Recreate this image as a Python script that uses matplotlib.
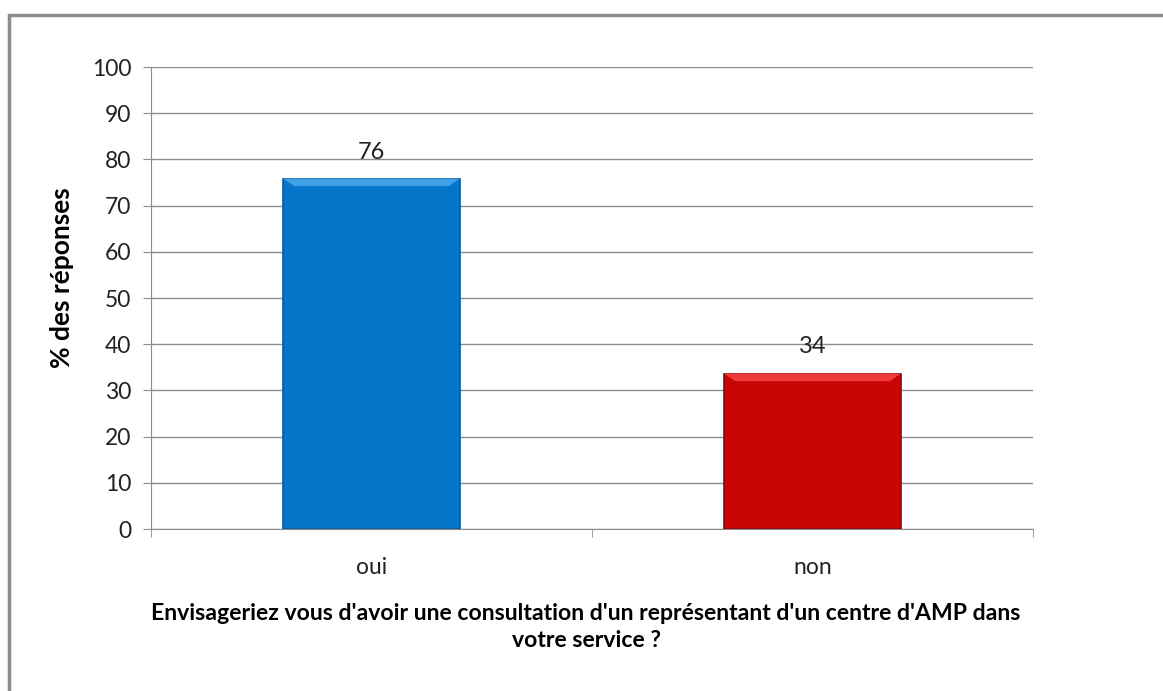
import matplotlib
matplotlib.use("Agg")
import matplotlib.pyplot as plt
from matplotlib.patches import Rectangle, Polygon
import numpy as np

categories = ["oui", "non"]
values = [75.8, 33.6]
bar_colors = ["#0575C9", "#C90505"]
edge_colors = ["#0A5A9A", "#8E0A0A"]
top_colors = ["#3FA0E8", "#EE3A3A"]
yticks = [0, 10, 20, 30, 40, 50, 60, 70, 80, 90, 100]
ylabel = "% des réponses"
xlabel = "Envisageriez vous d'avoir une consultation d'un représentant d'un centre d'AMP dans\nvotre service ?"

plt.rcParams['font.family'] = ['Lato', 'DejaVu Sans']

W, H = 1163, 691
fig = plt.figure(figsize=(W / 100, H / 100), dpi=100)
fig.patch.set_facecolor("white")

# outer frame (left and top edges visible)
fig.patches.append(Rectangle((9 / W, -0.1), 1.2, 1 - 15 / H + 0.1, transform=fig.transFigure,
                             fill=False, edgecolor="#8c8c8c", linewidth=2.5, zorder=0))

ax = fig.add_axes([151 / W, 1 - 529 / H, (1033 - 151) / W, (529 - 67) / H])
x = np.arange(len(categories))
bw = 0.4
bars = ax.bar(x, values, width=bw, color=bar_colors, edgecolor=edge_colors, linewidth=1.2, zorder=3)

# bevel highlight on top of bars
dx = 0.025
dy = 1.6
for b, v, tc in zip(bars, values, top_colors):
    x0 = b.get_x()
    x1 = x0 + b.get_width()
    ax.add_patch(Polygon([[x0, v], [x1, v], [x1 - dx, v - dy], [x0 + dx, v - dy]],
                         closed=True, facecolor=tc, edgecolor="none", zorder=4))

for xi, v in zip(x, values):
    ax.text(xi, v + 5.8, f"{v:.0f}", ha="center", va="center", fontsize=17, color="#222222")

ax.set_xlim(-0.5, 1.5)
ax.set_ylim(0, 100)
ax.set_yticks(yticks)
ax.set_yticklabels([str(t) for t in yticks], fontsize=16.5, color="#222222")
ax.set_xticks(x)
ax.set_xticklabels(categories, fontsize=16.5, color="#222222")
ax.set_xticks([-0.5, 0.5, 1.5], minor=True)
ax.tick_params(axis="x", which="major", length=0, pad=20)
ax.tick_params(axis="x", which="minor", length=6, color="#8c8c8c", direction="out")
ax.tick_params(axis="y", length=6, color="#8c8c8c", pad=8)
ax.grid(axis="y", color="#8c8c8c", linewidth=1, zorder=0)

for s in ["top", "right"]:
    ax.spines[s].set_visible(False)
for s in ["left", "bottom"]:
    ax.spines[s].set_color("#8c8c8c")

ax.set_ylabel(ylabel, fontsize=19, fontweight="bold", va="center")
ax.yaxis.set_label_coords(-0.101, 0.545)

fig.text(586 / W, 1 - 627 / H, xlabel, ha="center", va="center", multialignment="center",
         fontsize=16.6, fontweight="bold", linespacing=1.3)

fig.savefig("out.png", dpi=100)
